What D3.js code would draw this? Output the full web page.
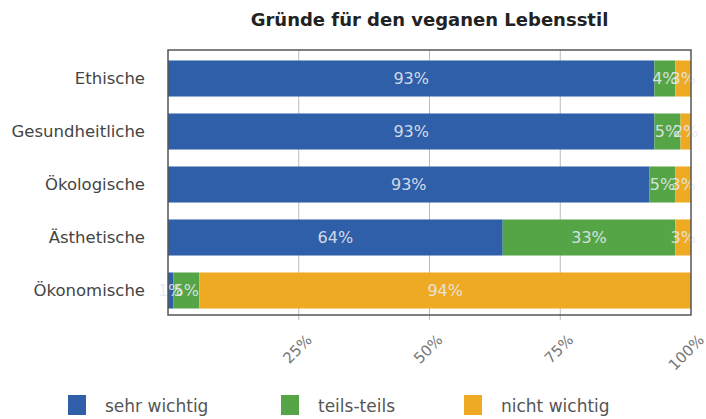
<!DOCTYPE html>
<html>
<head>
<meta charset="utf-8">
<script src="https://cdn.jsdelivr.net/npm/d3@7"></script>
<style>
  body { margin: 0; background: #fff; }
  svg { font-family: "DejaVu Sans", Verdana, sans-serif; }
</style>
</head>
<body>
<svg id="chart" width="706" height="419"></svg>
<script>
const categories = ["Ethische", "Gesundheitliche", "Ökologische", "Ästhetische", "Ökonomische"];
const seriesNames = ["sehr wichtig", "teils-teils", "nicht wichtig"];
const sehrWichtig = [93, 93, 93, 64, 1];
const teilsTeils = [4, 5, 5, 33, 5];
const nichtWichtig = [3, 2, 3, 3, 94];
const tickValues = [0.25, 0.5, 0.75, 1];
const colors = ["#2e5fa8", "#55a547", "#eeaa22"];

const margin = { top: 50, right: 15, bottom: 104, left: 168 };
const width = 706 - margin.left - margin.right;
const height = 419 - margin.top - margin.bottom;

// rows, normalised to shares of 1
const rows = categories.map((c, i) => {
    const vals = [sehrWichtig[i], teilsTeils[i], nichtWichtig[i]];
    const total = d3.sum(vals);
    const row = { cat: c };
    seriesNames.forEach((s, j) => { row[s] = vals[j] / total; row[s + "_label"] = vals[j]; });
    return row;
});

const stack = d3.stack().keys(seriesNames)(rows);

const svg = d3.select("#chart");
const g = svg.append("g").attr("transform", `translate(${margin.left}, ${margin.top})`);

const x = d3.scaleLinear().domain([0, 1]).range([0, width]);
const y = d3.scaleBand().domain(categories).range([2, height + 2]).paddingInner(0.32).paddingOuter(0.16);
const color = d3.scaleOrdinal().domain(seriesNames).range(colors);

// title
svg.append("text")
    .attr("x", margin.left + width / 2)
    .attr("y", 26)
    .attr("text-anchor", "middle")
    .style("font-size", "18px")
    .style("font-weight", "bold")
    .style("fill", "#222")
    .text("Gründe für den veganen Lebensstil");

// grid lines
g.selectAll(".grid")
    .data(tickValues.slice(0, 3))
    .join("line")
    .attr("x1", d => x(d)).attr("x2", d => x(d))
    .attr("y1", 0).attr("y2", height + 5)
    .attr("stroke", "#bbb")
    .attr("stroke-width", 1);

// bars
const layer = g.selectAll(".layer")
    .data(stack)
    .join("g")
    .attr("fill", d => color(d.key));

layer.selectAll("rect")
    .data(d => d)
    .join("rect")
    .attr("x", d => x(d[0]))
    .attr("y", d => y(d.data.cat))
    .attr("width", d => x(d[1]) - x(d[0]))
    .attr("height", y.bandwidth());

// value labels
stack.forEach(s => {
    g.selectAll(null)
        .data(s)
        .join("text")
        .attr("x", d => (x(d[0]) + x(d[1])) / 2)
        .attr("y", d => y(d.data.cat) + y.bandwidth() / 2)
        .attr("dy", "0.36em")
        .attr("text-anchor", "middle")
        .style("font-size", "16px")
        .style("fill", "#e6e9f0")
        .style("fill-opacity", 0.9)
        .text(d => d.data[s.key + "_label"] + "%");
});

// frame
g.append("rect")
    .attr("x", 0).attr("y", 0)
    .attr("width", width).attr("height", height)
    .attr("fill", "none")
    .attr("stroke", "#555")
    .attr("stroke-width", 1.5);

// y labels
g.selectAll(".ylab")
    .data(categories)
    .join("text")
    .attr("x", -23)
    .attr("y", d => y(d) + y.bandwidth() / 2)
    .attr("dy", "0.36em")
    .attr("text-anchor", "end")
    .style("font-size", "16.5px")
    .style("fill", "#444")
    .text(d => d);

// x tick labels, rotated
g.selectAll(".xlab")
    .data(tickValues)
    .join("text")
    .attr("transform", d => `translate(${x(d) + 14}, ${height + 26}) rotate(-45)`)
    .attr("text-anchor", "end")
    .style("font-size", "15px")
    .style("fill", "#777")
    .text(d => d3.format(".0%")(d));

// legend
const legendX = [68, 281, 464];
const legend = svg.append("g").attr("transform", "translate(0, 395)");
seriesNames.forEach((s, i) => {
    legend.append("rect")
        .attr("x", legendX[i]).attr("y", 0)
        .attr("width", 18).attr("height", 20)
        .attr("fill", color(s));
    legend.append("text")
        .attr("x", legendX[i] + 37)
        .attr("y", 17)
        .style("font-size", "17px")
        .style("fill", "#555")
        .text(s);
});
</script>
</body>
</html>
